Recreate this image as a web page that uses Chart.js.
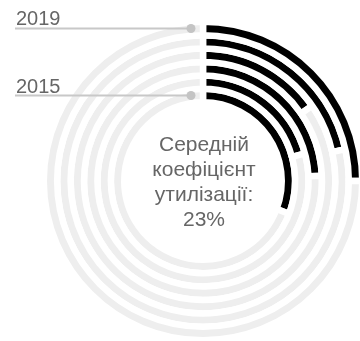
<!DOCTYPE html>
<html>
<head>
<meta charset="utf-8">
<script src="https://cdn.jsdelivr.net/npm/chart.js@4"></script>
<style>
  html, body { margin: 0; padding: 0; background: #fff; overflow: hidden; }
  #wrap { width: 360px; height: 341px; }
</style>
</head>
<body>
<div id="wrap"><canvas id="chart" width="360" height="341"></canvas></div>
<script>
// utilisation per ring, outermost (2019) first, in %
const ringValues = [25, 21.5, 15.4, 24.3, 20.8, 30.8];
const edgeLabels = ['2019', '2015'];
const centerLines = ['Середній', 'коефіцієнт', 'утилізації:', '23%'];

const datasets = ringValues.map(v => ({
  data: [v, 100 - v],
  backgroundColor: ['#000000', '#eeeeee'],
  borderColor: '#ffffff',
  borderWidth: 6.5,
  borderJoinStyle: 'miter',
  clip: false
}));

// year labels with leader lines + text in the hole
const labelPlugin = {
  id: 'ringLabels',
  afterDraw(chart) {
    const ctx = chart.ctx;
    const first = chart.getDatasetMeta(0).data[0];
    const last = chart.getDatasetMeta(ringValues.length - 1).data[0];
    [[first, edgeLabels[0]], [last, edgeLabels[1]]].forEach(([arc, text]) => {
      const y = arc.y - (arc.outerRadius + arc.innerRadius) / 2;
      const dotX = arc.x - 12;
      ctx.save();
      ctx.strokeStyle = '#c8c8c8';
      ctx.lineWidth = 2;
      ctx.beginPath();
      ctx.moveTo(15, y);
      ctx.lineTo(dotX, y);
      ctx.stroke();
      ctx.fillStyle = '#c4c4c4';
      ctx.beginPath();
      ctx.arc(dotX, y, 4.5, 0, Math.PI * 2);
      ctx.fill();
      ctx.fillStyle = '#666666';
      ctx.font = '20px "Liberation Sans", Arial, sans-serif';
      ctx.textAlign = 'left';
      ctx.textBaseline = 'alphabetic';
      ctx.fillText(text, 16, y - 3);
      ctx.restore();
    });

    ctx.save();
    ctx.fillStyle = '#666666';
    ctx.font = '21px "Liberation Sans", Arial, sans-serif';
    ctx.textAlign = 'center';
    ctx.textBaseline = 'alphabetic';
    centerLines.forEach((line, i) => {
      ctx.fillText(line, first.x + 1, first.y - 30 + i * 25);
    });
    ctx.restore();
  }
};

new Chart(document.getElementById('chart'), {
  type: 'doughnut',
  data: { labels: ['used', 'rest'], datasets: datasets },
  options: {
    responsive: false,
    animation: false,
    events: [],
    radius: 159.25,
    cutout: '49.45%',
    layout: { padding: { left: 46, top: 21, right: 0, bottom: 0 } },
    plugins: {
      legend: { display: false },
      tooltip: { enabled: false }
    }
  },
  plugins: [labelPlugin]
});
</script>
</body>
</html>
